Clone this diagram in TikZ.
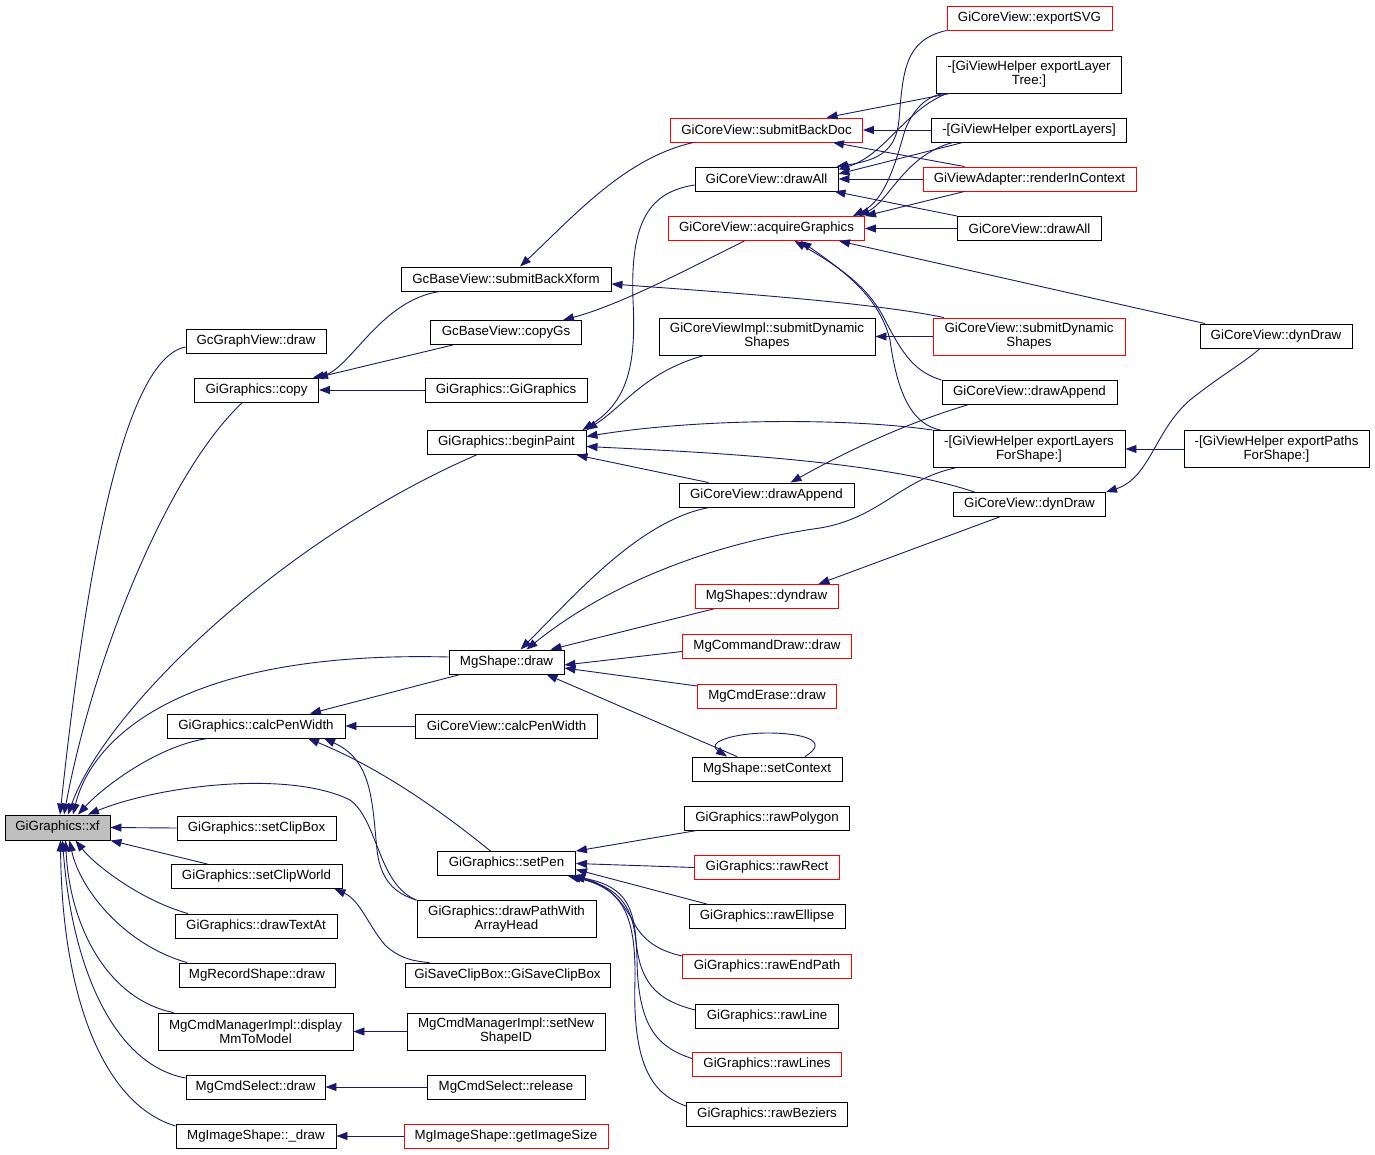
\documentclass[tikz,border=0pt]{standalone}
\usepackage{fontspec}
\setmainfont{Liberation Sans}
\usetikzlibrary{arrows.meta}
\definecolor{navyc}{HTML}{191970}
\definecolor{xfgray}{HTML}{BFBFBF}
\begin{document}
\begin{tikzpicture}[x=1pt,y=-1pt,
 box/.style={draw=black, fill=white, line width=0.9pt, inner sep=1pt, minimum height=24pt, align=center, font=\fontsize{13.3}{14}\selectfont},
 rbox/.style={box, draw=red},
 tall/.style={minimum height=37pt},
 bw/.style={minimum width=#1pt},
 conn/.style={draw=navyc, line width=0.9pt, {Triangle[length=11pt,width=8pt]}-}]
\fill[white] (0,0) rectangle (1375,1155);
\useasboundingbox (0,0) rectangle (1375,1155);

% column 1-2
\node[box,fill=xfgray,bw=105,minimum height=25pt] (xf) at (57.5,827.5) {GiGraphics::xf};
\node[box,bw=140] (gcdraw) at (256,341) {GcGraphView::draw};
\node[box,bw=124] (copy) at (256.5,390) {GiGraphics::copy};
\node[box,bw=178] (calcpw) at (256,726) {GiGraphics::calcPenWidth};
\node[box,bw=159] (setclipbox) at (256.5,828) {GiGraphics::setClipBox};
\node[box,bw=171] (setclipworld) at (256.5,876.5) {GiGraphics::setClipWorld};
\node[box,bw=162] (drawtextat) at (256,926) {GiGraphics::drawTextAt};
\node[box,bw=156] (mgrecord) at (257,975) {MgRecordShape::draw};
\node[box,tall,bw=195] (display) at (255.5,1031.5) {MgCmdManagerImpl::display\\MmToModel};
\node[box,bw=139] (selectdraw) at (255.5,1087) {MgCmdSelect::draw};
\node[box,bw=160] (imgdraw) at (256,1136) {MgImageShape::\_draw};

% column 3
\node[box,bw=210] (backxform) at (506,279) {GcBaseView::submitBackXform};
\node[box,bw=151] (copygs) at (506,332.5) {GcBaseView::copyGs};
\node[box,bw=162] (gigraphics) at (506,390) {GiGraphics::GiGraphics};
\node[box,bw=159] (beginpaint) at (506.5,442.5) {GiGraphics::beginPaint};
\node[box,bw=115] (shapedraw) at (506.5,662) {MgShape::draw};
\node[box,bw=182] (cvcalcpw) at (506.5,726) {GiCoreView::calcPenWidth};
\node[box,bw=138] (setpen) at (506.5,863.5) {GiGraphics::setPen};
\node[box,tall,bw=179] (drawpath) at (506.5,919) {GiGraphics::drawPathWith\\ArrayHead};
\node[box,bw=205] (saveclip) at (507.5,975) {GiSaveClipBox::GiSaveClipBox};
\node[box,tall,bw=198] (setnewshape) at (506,1031.5) {MgCmdManagerImpl::setNew\\ShapeID};
\node[box,bw=158] (release) at (506,1087) {MgCmdSelect::release};
\node[rbox,bw=204] (getimgsize) at (506,1136) {MgImageShape::getImageSize};

% column 4
\node[rbox,bw=192] (backdoc) at (766.5,130) {GiCoreView::submitBackDoc};
\node[box,bw=143] (drawall) at (766.5,179) {GiCoreView::drawAll};
\node[rbox,bw=196] (acquire) at (766.5,228.5) {GiCoreView::acquireGraphics};
\node[box,tall,bw=216] (implsubmit) at (767,336.5) {GiCoreViewImpl::submitDynamic\\Shapes};
\node[box,bw=175] (drawappend4) at (766.5,495) {GiCoreView::drawAppend};
\node[rbox,bw=143] (dyndraw4) at (766.5,596.5) {MgShapes::dyndraw};
\node[rbox,bw=169] (cmddraw) at (767,646.5) {MgCommandDraw::draw};
\node[rbox,bw=139] (erase) at (767,696) {MgCmdErase::draw};
\node[box,bw=150] (setcontext) at (767,769) {MgShape::setContext};
\node[box,bw=165] (rawpolygon) at (767,818) {GiGraphics::rawPolygon};
\node[rbox,bw=145] (rawrect) at (767,867.5) {GiGraphics::rawRect};
\node[box,bw=156] (rawellipse) at (767,916.5) {GiGraphics::rawEllipse};
\node[rbox,bw=169] (rawendpath) at (767,966) {GiGraphics::rawEndPath};
\node[box,bw=143] (rawline) at (767,1016) {GiGraphics::rawLine};
\node[rbox,bw=149] (rawlines) at (767,1064.5) {GiGraphics::rawLines};
\node[box,bw=161] (rawbeziers) at (767,1114) {GiGraphics::rawBeziers};

% column 5
\node[rbox,bw=165] (exportsvg) at (1029.5,18) {GiCoreView::exportSVG};
\node[box,tall,bw=185] (layertree) at (1029,74.5) {-[GiViewHelper exportLayer\\Tree:]};
\node[box,bw=195] (layers) at (1029,130) {-[GiViewHelper exportLayers]};
\node[rbox,bw=213] (render) at (1029.5,179) {GiViewAdapter::renderInContext};
\node[box,bw=144] (drawall5) at (1029.5,228.5) {GiCoreView::drawAll};
\node[rbox,tall,bw=192] (cvsubmit) at (1029,336.5) {GiCoreView::submitDynamic\\Shapes};
\node[box,bw=175] (drawappend5) at (1029.5,392.5) {GiCoreView::drawAppend};
\node[box,tall,bw=192] (layersforshape) at (1029,449) {-[GiViewHelper exportLayers\\ForShape:]};
\node[box,bw=152] (dyndraw5) at (1029.5,504.5) {GiCoreView::dynDraw};

% column 6
\node[box,bw=152] (dyndraw6) at (1276,336) {GiCoreView::dynDraw};
\node[box,tall,bw=185] (pathsforshape) at (1276.5,449) {-[GiViewHelper exportPaths\\ForShape:]};

% ---- edges into xf
\draw[conn] ([xshift=2.5pt]xf.north) .. controls (82,610) and (118,360) .. ([yshift=-6pt]gcdraw.west);
\draw[conn] ([xshift=6.5pt]xf.north) .. controls (95,650) and (170,470) .. ([xshift=-14pt]copy.south);
\draw[conn] ([xshift=10.5pt]xf.north) .. controls (105,710) and (280,540) .. ([xshift=-30pt]beginpaint.south);
\draw[conn] ([xshift=15.5pt]xf.north) .. controls (90,745) and (170,650) .. ([yshift=5pt]shapedraw.west);
\draw[conn] ([xshift=20.5pt]xf.north) .. controls (105,785) and (160,745) .. ([xshift=-48pt]calcpw.south);
\draw[conn] ([xshift=30.5pt]xf.north) .. controls (160,785) and (290,770) .. (350,800) .. controls (378,820) and (378,885) .. (drawpath.north west);
\draw[conn] (xf.east) -- (setclipbox.west);
\draw[conn] (xf.south east) -- ([xshift=-49pt]setclipworld.north);
\draw[conn] ([xshift=18pt]xf.south) .. controls (95,865) and (140,900) .. ([xshift=-68pt]drawtextat.north);
\draw[conn] ([xshift=12pt]xf.south) .. controls (80,890) and (125,945) .. ([xshift=-70pt]mgrecord.north);
\draw[conn] ([xshift=8pt]xf.south) .. controls (70,930) and (110,1000) .. ([xshift=-82pt]display.north);
\draw[conn] ([xshift=5pt]xf.south) .. controls (72,970) and (115,1065) .. ([yshift=9pt]selectdraw.west);
\draw[conn] ([xshift=3pt]xf.south) .. controls (62,1000) and (105,1105) .. ([yshift=10pt]imgdraw.west);

% ---- copy
\draw[conn] ([xshift=-6pt]copy.north east) .. controls (350,370) and (380,300) .. ([xshift=-66pt]backxform.south);
\draw[conn] ([xshift=-2pt]copy.north east) -- ([xshift=-53pt]copygs.south);
\draw[conn] (copy.east) -- (gigraphics.west);

% ---- backxform, copygs
\draw[conn] ([xshift=14pt]backxform.north) .. controls (575,215) and (625,158) .. ([xshift=-73pt]backdoc.south);
\draw[conn] ([yshift=-5pt]backxform.east) .. controls (720,292) and (870,302) .. ([xshift=-85pt]cvsubmit.north);
\draw[conn] ([xshift=57pt]copygs.north) .. controls (620,305) and (690,268) .. ([xshift=-22pt]acquire.south);

% ---- beginpaint
\draw[conn] ([xshift=-4pt]beginpaint.north east) .. controls (630,400) and (636,360) .. (633,300) .. controls (630,220) and (650,192) .. ([yshift=-6pt]drawall.west);
\draw[conn] (beginpaint.north east) .. controls (625,405) and (645,372) .. ([xshift=-63pt]implsubmit.south);
\draw[conn] ([yshift=6pt]beginpaint.east) .. controls (700,418) and (850,418) .. (layersforshape.north west);
\draw[conn] ([yshift=-4pt]beginpaint.east) .. controls (700,452) and (880,460) .. ([xshift=-55pt]dyndraw5.north);
\draw[conn] ([xshift=-10pt]beginpaint.south east) -- ([xshift=-58pt]drawappend4.north);

% ---- shapedraw
\draw[conn] ([xshift=14pt]shapedraw.north) .. controls (575,595) and (640,520) .. ([xshift=-57pt]drawappend4.south);
\draw[conn] ([xshift=20pt]shapedraw.north) .. controls (600,590) and (700,545) .. (820,528) .. controls (880,518) and (900,480) .. ([xshift=-74pt]layersforshape.south);
\draw[conn] ([xshift=-14pt]shapedraw.north east) -- ([xshift=-53pt]dyndraw4.south);
\draw[conn] ([yshift=-3pt]shapedraw.east) -- ([yshift=-5pt]cmddraw.west);
\draw[conn] ([yshift=-6pt]shapedraw.east) -- ([yshift=10pt]erase.west);
\draw[conn] ([xshift=-18pt]shapedraw.south east) -- ([xshift=-30pt]setcontext.north);
\draw[conn] ([xshift=-40pt]setcontext.north) .. controls (705,742) and (735,733) .. (768,733) .. controls (800,733) and (832,740) .. ([xshift=38pt]setcontext.north);

% ---- col 4 lower / col 5
\draw[conn] ([xshift=-20pt]dyndraw4.north east) -- ([xshift=-30pt]dyndraw5.south);
\draw[conn] ([xshift=24pt]drawappend4.north) .. controls (840,455) and (900,425) .. ([xshift=-62pt]drawappend5.south);
\draw[conn] (dyndraw5.north east) .. controls (1150,478) and (1155,430) .. (1190,400) .. controls (1220,376) and (1245,362) .. ([xshift=-16pt]dyndraw6.south);
\draw[conn] (layersforshape.east) -- (pathsforshape.west);
\draw[conn] (implsubmit.east) -- (cvsubmit.west);

% ---- backdoc
\draw[conn] ([xshift=60pt]backdoc.north) -- ([xshift=-79pt]layertree.south);
\draw[conn] (backdoc.east) -- (layers.west);
\draw[conn] ([xshift=-30pt]backdoc.south east) -- ([xshift=-65pt]render.north);

% ---- drawall
\draw[conn] ([xshift=-2pt]drawall.north east) .. controls (880,160) and (896,150) .. (899,120) .. controls (903,70) and (905,40) .. (exportsvg.south west);
\draw[conn] ([yshift=-3pt]drawall.north east) .. controls (885,155) and (905,110) .. ([xshift=-82pt]layertree.south);
\draw[conn] ([yshift=5pt]drawall.east) -- ([xshift=-66pt]layers.south);
\draw[conn] (drawall.east) -- (render.west);
\draw[conn] ([xshift=-4pt]drawall.south east) -- (drawall5.north west);

% ---- acquire
\draw[conn] ([xshift=-12pt]acquire.north east) .. controls (885,200) and (895,165) .. (905,130) .. controls (915,105) and (930,95) .. ([xshift=-84pt]layertree.south);
\draw[conn] ([xshift=-6pt]acquire.north east) .. controls (890,200) and (905,155) .. ([xshift=-76pt]layers.south);
\draw[conn] (acquire.north east) -- ([xshift=-65pt]render.south);
\draw[conn] (acquire.east) -- (drawall5.west);
\draw[conn] ([xshift=-26pt]acquire.south east) -- ([xshift=-71pt]dyndraw6.north);
\draw[conn] ([xshift=28pt]acquire.south) .. controls (845,270) and (870,290) .. (885,320) .. controls (903,355) and (915,372) .. (drawappend5.north west);
\draw[conn] ([xshift=34pt]acquire.south) .. controls (850,275) and (880,300) .. (890,340) .. controls (898,400) and (915,425) .. ([xshift=8pt]layersforshape.north west);

% ---- calcpw and others
\draw[conn] (calcpw.east) -- (cvcalcpw.west);
\draw[conn] ([xshift=54pt]calcpw.north) -- ([xshift=-46pt]shapedraw.south);
\draw[conn] ([xshift=52pt]calcpw.south) .. controls (380,768) and (440,810) .. ([xshift=-16pt]setpen.north);
\draw[conn] ([xshift=68pt]calcpw.south) .. controls (372,760) and (372,800) .. (377,850) .. controls (381,885) and (400,895) .. (drawpath.north west);
\draw[conn] ([xshift=-8pt]setclipworld.south east) .. controls (360,900) and (368,925) .. (385,945) .. controls (398,957) and (410,961) .. ([xshift=-78pt]saveclip.north);
\draw[conn] (display.east) -- (setnewshape.west);
\draw[conn] (selectdraw.east) -- (release.west);
\draw[conn] (imgdraw.east) -- (getimgsize.west);

% ---- setpen
\draw[conn] (setpen.north east) -- ([xshift=-70pt]rawpolygon.south);
\draw[conn] (setpen.east) -- (rawrect.west);
\draw[conn] ([yshift=-6pt]setpen.east) -- ([xshift=-60pt]rawellipse.north);
\draw[conn] ([xshift=-2pt]setpen.south east) .. controls (610,885) and (625,905) .. (635,925) .. controls (645,942) and (660,951) .. ([yshift=10pt]rawendpath.west);
\draw[conn] ([xshift=-4pt]setpen.south east) .. controls (620,885) and (633,900) .. (636,940) .. controls (640,990) and (665,1002) .. ([yshift=6pt]rawline.west);
\draw[conn] ([xshift=-6pt]setpen.south east) .. controls (620,888) and (636,905) .. (637,960) .. controls (638,1030) and (660,1048) .. ([yshift=6pt]rawlines.west);
\draw[conn] ([xshift=-8pt]setpen.south east) .. controls (620,888) and (636,910) .. (635,980) .. controls (632,1070) and (655,1095) .. ([yshift=8pt]rawbeziers.west);
\end{tikzpicture}
\end{document}
